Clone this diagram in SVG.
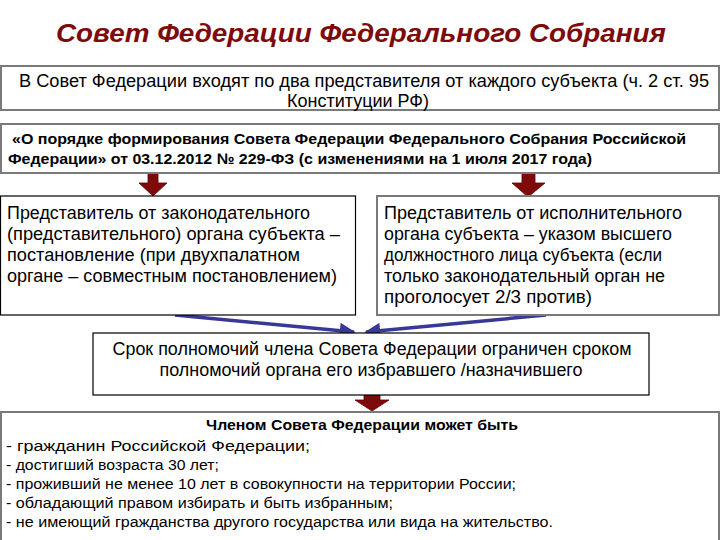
<svg xmlns="http://www.w3.org/2000/svg" width="720" height="540" viewBox="0 0 720 540">
<defs>
<style>
.t{font-family:"Liberation Sans",Arial,sans-serif;fill:#000}
.b{font-weight:bold}
.box{fill:#fff;stroke:#000;stroke-width:1.2}
.gbox{fill:#fff;stroke:#7a7a7a;stroke-width:2}
.red{fill:#7f0a0a;stroke:#5a0000;stroke-width:0.8}
.blue{stroke:#383896;stroke-width:3.5;fill:none}
</style>
<marker id="ah" viewBox="0 0 10 10" refX="9" refY="5" markerWidth="5.5" markerHeight="4.5" markerUnits="strokeWidth" orient="auto">
<path d="M0,0 L10,5 L0,10 z" fill="#383896"/>
</marker>
</defs>
<rect width="720" height="540" fill="#fff"/>
<text x="361" y="42" text-anchor="middle" font-family="'Liberation Sans',Arial,sans-serif" font-weight="bold" font-style="italic" font-size="25" fill="#7d0b0b" textLength="610" lengthAdjust="spacingAndGlyphs">Совет Федерации Федерального Собрания</text>

<g id="connectors">
<polygon class="red" points="148,173 158,173 158,183 167,183 153,196 139,183 148,183"/>
<polygon class="red" points="522,173 535,173 535,183 545,183 528,197 512,183 522,183"/>
<line class="blue" x1="175" y1="315" x2="354" y2="332" marker-end="url(#ah)"/>
<line class="blue" x1="546" y1="315" x2="366" y2="332" marker-end="url(#ah)"/>
<polygon class="red" points="364,395 380,395 380,400 389,400 372,411 355,400 364,400"/>
</g>

<g id="n1">
<rect class="gbox" x="1" y="66" width="718" height="44"/>
<text class="t" x="364" y="87" text-anchor="middle" font-size="17.5" textLength="690" lengthAdjust="spacingAndGlyphs">В Совет Федерации входят по два представителя от каждого субъекта (ч. 2 ст. 95</text>
<text class="t" x="358" y="107" text-anchor="middle" font-size="17.5" textLength="142" lengthAdjust="spacingAndGlyphs">Конституции РФ)</text>
</g>

<g id="n2">
<rect class="gbox" x="1" y="124" width="718" height="49"/>
<text class="t b" x="12" y="144" font-size="15.5" textLength="674" lengthAdjust="spacingAndGlyphs">«О порядке формирования Совета Федерации Федерального Собрания Российской</text>
<text class="t b" x="8" y="164" font-size="15.5" textLength="584" lengthAdjust="spacingAndGlyphs">Федерации» от 03.12.2012 № 229-ФЗ (с изменениями на 1 июля 2017 года)</text>
</g>

<g id="n3">
<rect class="box" x="0.5" y="196" width="355" height="119"/>
<text class="t" x="7" y="219" font-size="17.5" textLength="303" lengthAdjust="spacingAndGlyphs">Представитель от законодательного</text>
<text class="t" x="7" y="240" font-size="17.5" textLength="333" lengthAdjust="spacingAndGlyphs">(представительного) органа субъекта –</text>
<text class="t" x="7" y="261" font-size="17.5" textLength="293" lengthAdjust="spacingAndGlyphs">постановление (при двухпалатном</text>
<text class="t" x="7" y="282" font-size="17.5" textLength="330" lengthAdjust="spacingAndGlyphs">органе – совместным постановлением)</text>
</g>

<g id="n4">
<rect class="gbox" x="377" y="196" width="342" height="119"/>
<text class="t" x="384" y="219" font-size="17.5" textLength="298" lengthAdjust="spacingAndGlyphs">Представитель от исполнительного</text>
<text class="t" x="384" y="240" font-size="17.5" textLength="288" lengthAdjust="spacingAndGlyphs">органа субъекта – указом высшего</text>
<text class="t" x="384" y="261" font-size="17.5" textLength="278" lengthAdjust="spacingAndGlyphs">должностного лица субъекта (если</text>
<text class="t" x="384" y="282" font-size="17.5" textLength="281" lengthAdjust="spacingAndGlyphs">только законодательный орган не</text>
<text class="t" x="384" y="303" font-size="17.5" textLength="208" lengthAdjust="spacingAndGlyphs">проголосует 2/3 против)</text>
</g>

<g id="n5">
<rect class="box" x="93" y="333" width="556" height="62"/>
<text class="t" x="372" y="355" text-anchor="middle" font-size="17.5" textLength="519" lengthAdjust="spacingAndGlyphs">Срок полномочий члена Совета Федерации ограничен сроком</text>
<text class="t" x="371" y="376" text-anchor="middle" font-size="17.5" textLength="423" lengthAdjust="spacingAndGlyphs">полномочий органа его избравшего /назначившего</text>
</g>

<g id="n6">
<rect class="gbox" x="1" y="412" width="718" height="132"/>
<text class="t b" x="362" y="430" text-anchor="middle" font-size="15.5" textLength="312" lengthAdjust="spacingAndGlyphs">Членом Совета Федерации может быть</text>
<text class="t" x="6" y="451" font-size="15.5" textLength="304" lengthAdjust="spacingAndGlyphs">- гражданин Российской Федерации;</text>
<text class="t" x="6" y="470" font-size="15.5" textLength="213" lengthAdjust="spacingAndGlyphs">- достигший возраста 30 лет;</text>
<text class="t" x="6" y="489" font-size="15.5" textLength="510" lengthAdjust="spacingAndGlyphs">- проживший не менее 10 лет в совокупности на территории России;</text>
<text class="t" x="6" y="508" font-size="15.5" textLength="387" lengthAdjust="spacingAndGlyphs">- обладающий правом избирать и быть избранным;</text>
<text class="t" x="6" y="527" font-size="15.5" textLength="547" lengthAdjust="spacingAndGlyphs">- не имеющий гражданства другого государства  или вида на жительство.</text>
</g>
</svg>
